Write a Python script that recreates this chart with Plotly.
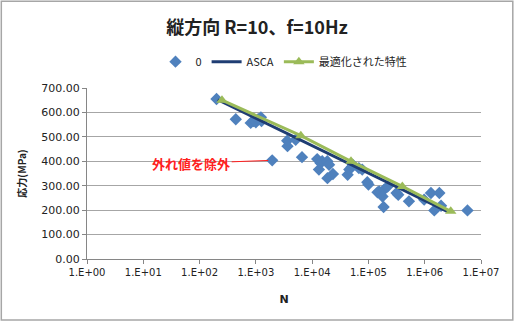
import plotly.graph_objects as go

# Data
test_N = [200, 440, 810, 910, 1000, 1100, 1230, 1260, 1950, 3600, 3650, 5100, 6600,
          12300, 13200, 14100, 15100, 18600, 20000, 18700, 23400, 42700, 45700, 50100,
          52500, 67600, 77600, 95500, 100000, 145000, 155000, 190000, 219000, 178000,
          186000, 339000, 316000, 525000, 977000, 1290000, 1820000, 1480000, 1950000, 5750000]
test_S = [655, 572, 557, 565, 560, 572, 580, 565, 404, 484, 462, 488, 417,
          409, 366, 393, 400, 400, 386, 331, 348, 345, 366, 376,
          386, 372, 366, 314, 305, 273, 277, 284, 297, 256,
          213, 263, 270, 236, 243, 270, 270, 199, 218, 199]

asca_N = [210, 2500000]
asca_S = [652, 195]

opt_N = [250, 6300, 49000, 400000, 2900000]
opt_S = [650, 505, 400, 297, 195]

x_tickvals = [1, 10, 100, 1000, 10000, 100000, 1000000, 10000000]
x_ticktext = ["1.E+00", "1.E+01", "1.E+02", "1.E+03", "1.E+04", "1.E+05", "1.E+06", "1.E+07"]

outlier_N = 1950
outlier_S = 404

FONT = "DejaVu Sans, Noto Sans CJK JP"
CJK = "Noto Sans CJK JP"

fig = go.Figure()
fig.add_trace(go.Scatter(x=test_N, y=test_S, mode="markers", name="0",
                         marker=dict(symbol="diamond", size=9.5, color="#4F81BD")))
fig.add_trace(go.Scatter(x=asca_N, y=asca_S, mode="lines", name="ASCA",
                         line=dict(color="#1F3D73", width=3)))
fig.add_trace(go.Scatter(x=opt_N, y=opt_S, mode="lines+markers", name="最適化された特性",
                         line=dict(color="#9BBB59", width=3),
                         marker=dict(symbol="triangle-up", size=10, color="#9BBB59")))

fig.add_annotation(x=3.29, y=outlier_S, xref="x", yref="y",
                   text="<b>外れ値を除外</b>", showarrow=True, arrowhead=0,
                   arrowwidth=1, arrowcolor="#FF2020", ax=-81, ay=3, standoff=4,
                   font=dict(family=CJK, size=13, color="#FF2020"))

fig.add_shape(type="rect", xref="paper", yref="paper",
              x0=-0.2175, x1=1.0807, y0=-0.356, y1=1.508,
              line=dict(color="#A6A6A6", width=1.5), layer="above")

fig.update_layout(
    width=514, height=322,
    margin=dict(l=87, r=33, t=88, b=63),
    paper_bgcolor="white", plot_bgcolor="white",
    font=dict(family=FONT, size=11, color="#222222"),
    title=dict(text="<b>縦方向 R=10、f=10Hz</b>", x=0.5, xanchor="center",
               y=0.915, yanchor="middle", font=dict(family=CJK, size=18, color="#222222")),
    showlegend=True,
    legend=dict(orientation="h", x=0.5, xanchor="center", y=1.154, yanchor="middle",
                font=dict(family=CJK, size=11, color="#222222"),
                bgcolor="rgba(0,0,0,0)", itemwidth=30, traceorder="normal"),
    xaxis=dict(type="log", range=[0, 7], tickvals=x_tickvals, ticktext=x_ticktext,
               showgrid=False, showline=True, linecolor="#868686", linewidth=1,
               ticks="outside", ticklen=4, tickcolor="#868686",
               tickfont=dict(family=FONT, size=10),
               title=dict(text="<b>N</b>", font=dict(family=FONT, size=11), standoff=18)),
    yaxis=dict(range=[0, 700], dtick=100, tickformat=".2f",
               showgrid=True, gridcolor="#A6A6A6", gridwidth=1,
               showline=True, linecolor="#868686", linewidth=1,
               ticks="outside", ticklen=4, tickcolor="#868686",
               tickfont=dict(family=FONT, size=11), zeroline=False,
               title=dict(text="<b>応力(MPa)</b>", font=dict(family=CJK, size=10), standoff=12)),
)

fig.write_html("out.html")
